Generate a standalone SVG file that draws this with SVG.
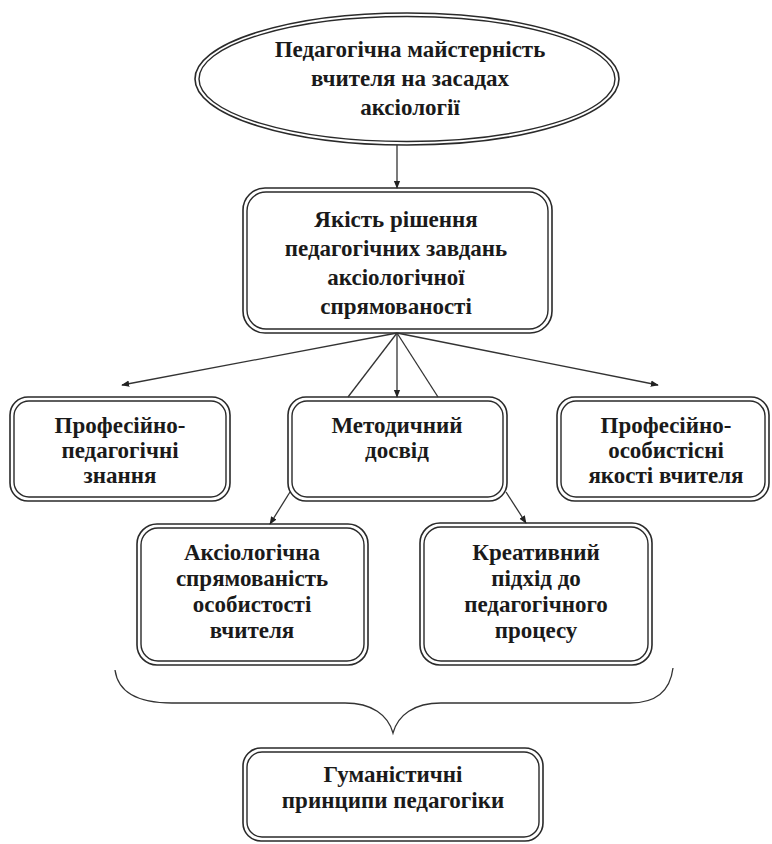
<svg xmlns="http://www.w3.org/2000/svg" width="772" height="844" viewBox="0 0 772 844">
<style>
.o{fill:none;stroke:#2a2a2a;stroke-width:1.6}
.i{fill:none;stroke:#2a2a2a;stroke-width:1.4}
.t{font-family:"Liberation Serif","Times New Roman",serif;font-weight:bold;font-size:23px;fill:#1a1a1a;text-anchor:middle}
.c{fill:none;stroke:#333;stroke-width:1.3}
</style>
<defs>
<marker id="ah" viewBox="0 0 10 10" refX="9" refY="5" markerWidth="8" markerHeight="8" markerUnits="userSpaceOnUse" orient="auto">
<path d="M0,1 L10,5 L0,9 Z" fill="#222"/>
</marker>
</defs>
<rect width="772" height="844" fill="#fff"/>
<g id="n1">
<ellipse class="o" cx="407" cy="79" rx="212" ry="66"/>
<ellipse class="i" cx="407" cy="79" rx="208" ry="62.5"/>
<text class="t" x="410" y="57">Педагогічна майстерність</text>
<text class="t" x="410" y="86">вчителя на засадах</text>
<text class="t" x="410" y="115">аксіології</text>
</g>
<g id="n2">
<rect class="o" x="243" y="188" width="309" height="145" rx="22"/>
<rect class="i" x="247" y="192" width="301" height="137" rx="19"/>
<text class="t" x="396" y="227">Якість рішення</text>
<text class="t" x="396" y="256">педагогічних завдань</text>
<text class="t" x="396" y="285">аксіологічної</text>
<text class="t" x="396" y="314">спрямованості</text>
</g>
<g id="n3">
<rect class="o" x="10" y="397" width="220" height="104" rx="18"/>
<rect class="i" x="14" y="401" width="212" height="96" rx="15"/>
<text class="t" x="120" y="433">Професійно-</text>
<text class="t" x="120" y="458">педагогічні</text>
<text class="t" x="120" y="483">знання</text>
</g>
<g id="n4">
<rect class="o" x="288" y="397" width="219" height="104" rx="18"/>
<rect class="i" x="292" y="401" width="211" height="96" rx="15"/>
<text class="t" x="397" y="433">Методичний</text>
<text class="t" x="397" y="458">досвід</text>
</g>
<g id="n5">
<rect class="o" x="557" y="397" width="212" height="104" rx="18"/>
<rect class="i" x="561" y="401" width="204" height="96" rx="15"/>
<text class="t" x="666" y="433">Професійно-</text>
<text class="t" x="666" y="458">особистісні</text>
<text class="t" x="666" y="483">якості вчителя</text>
</g>
<g id="n6">
<rect class="o" x="137" y="524" width="231" height="141" rx="20"/>
<rect class="i" x="141" y="528" width="223" height="133" rx="17"/>
<text class="t" x="252" y="560">Аксіологічна</text>
<text class="t" x="252" y="586">спрямованість</text>
<text class="t" x="252" y="612">особистості</text>
<text class="t" x="252" y="638">вчителя</text>
</g>
<g id="n7">
<rect class="o" x="420" y="523" width="232" height="142" rx="20"/>
<rect class="i" x="424" y="527" width="224" height="134" rx="17"/>
<text class="t" x="536" y="560">Креативний</text>
<text class="t" x="536" y="586">підхід до</text>
<text class="t" x="536" y="612">педагогічного</text>
<text class="t" x="536" y="638">процесу</text>
</g>
<g id="n8">
<rect class="o" x="243" y="748" width="300" height="93" rx="18"/>
<rect class="i" x="247" y="752" width="292" height="85" rx="15"/>
<text class="t" x="393" y="782">Гуманістичні</text>
<text class="t" x="393" y="808">принципи педагогіки</text>
</g>
<g id="connectors">
<line class="c" x1="397" y1="145" x2="397" y2="188" marker-end="url(#ah)"/>
<line class="c" x1="397" y1="333" x2="122" y2="385" marker-end="url(#ah)"/>
<line class="c" x1="397" y1="333" x2="397" y2="397" marker-end="url(#ah)"/>
<line class="c" x1="397" y1="333" x2="658" y2="385" marker-end="url(#ah)"/>
<line class="c" x1="397" y1="333" x2="348" y2="397"/>
<line class="c" x1="397" y1="333" x2="438" y2="397"/>
<line class="c" x1="290" y1="492" x2="270" y2="524" marker-end="url(#ah)"/>
<line class="c" x1="506" y1="492" x2="526" y2="523" marker-end="url(#ah)"/>
<path class="c" d="M115,670 C118,692 138,703 172,703 L345,703 C372,703 388,715 393,733 C398,715 414,703 441,703 L630,703 C655,703 670,692 673,668"/>
</g>
</svg>
